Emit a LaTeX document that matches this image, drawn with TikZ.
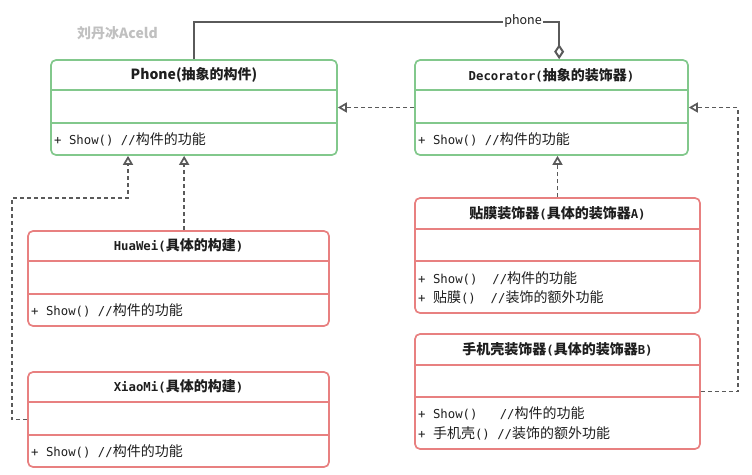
\documentclass[tikz,border=0pt]{standalone}
\usepackage{fontspec}
\setmainfont{Noto Sans CJK SC}
\newfontfamily\mono[Scale=0.88]{DejaVu Sans Mono}
\usetikzlibrary{arrows.meta,calc}
\definecolor{grn}{RGB}{130,200,140}
\definecolor{rd}{RGB}{232,128,128}
\definecolor{ln}{RGB}{90,90,90}
\definecolor{wm}{RGB}{192,192,192}
\definecolor{txt}{RGB}{30,30,30}
\newcommand\mysep[3]{\draw[#3] ($(#1.north west)+(0,#2)$) -- ($(#1.north east)+(0,#2)$);}
\begin{document}
\begin{tikzpicture}[x=1pt,y=-1pt,
  every node/.style={font=\fontsize{14}{16}\selectfont, text=txt},
  gline/.style={draw=grn, line width=1.7pt},
  rline/.style={draw=rd, line width=1.7pt},
  gbox/.style={gline, rounded corners=5pt, inner sep=0pt, minimum height=95pt},
  rbox/.style={rline, rounded corners=5pt, inner sep=0pt},
  ttl/.style={inner sep=0pt, anchor=center, font=\fontsize{14}{16}\selectfont\bfseries},
  body/.style={inner sep=0pt, anchor=west},
  dep/.style={draw=ln, line width=1.7pt, dash pattern=on 4pt off 3pt, -{Triangle[open,length=9pt,width=10pt]}},
  agg/.style={draw=ln, line width=2pt, -{Diamond[open,length=15pt,width=10pt]}}]
\useasboundingbox (0,0) rectangle (752,474);

% watermark
\node[inner sep=0pt, anchor=west, text=wm, font=\fontsize{14}{16}\selectfont\bfseries] (wmark) at (77,33) {刘丹冰Aceld};

% Phone
\node[gbox, minimum width=286pt] (phone) at (194,107.5) {};
\mysep{phone}{31}{gline}
\mysep{phone}{64}{gline}
\node[ttl] (phonet) at (194,75) {Phone(抽象的构件)};
\node[body] (phoneb) at (54,139) {{\mono+ Show() //}构件的功能};

% Decorator
\node[gbox, minimum width=273pt] (dec) at (551.5,107.5) {};
\mysep{dec}{31}{gline}
\mysep{dec}{64}{gline}
\node[ttl] (dect) at (551.5,75) {{\mono\bfseries Decorator(}抽象的装饰器{\mono\bfseries )}};
\node[body] (decb) at (418,139) {{\mono+ Show() //}构件的功能};

% HuaWei
\node[rbox, minimum width=301pt, minimum height=95pt] (hw) at (178.5,278.5) {};
\mysep{hw}{31}{rline}
\mysep{hw}{64}{rline}
\node[ttl] (hwt) at (178.5,245) {{\mono\bfseries HuaWei(}具体的构建{\mono\bfseries )}};
\node[body] (hwb) at (31,310) {{\mono+ Show() //}构件的功能};

% XiaoMi
\node[rbox, minimum width=301pt, minimum height=95pt] (xm) at (178.5,419.5) {};
\mysep{xm}{31}{rline}
\mysep{xm}{64}{rline}
\node[ttl] (xmt) at (178.5,386) {{\mono\bfseries XiaoMi(}具体的构建{\mono\bfseries )}};
\node[body] (xmb) at (31,451) {{\mono+ Show() //}构件的功能};

% 贴膜装饰器
\node[rbox, minimum width=285pt, minimum height=115pt] (tm) at (557.5,255.5) {};
\mysep{tm}{32}{rline}
\mysep{tm}{64}{rline}
\node[ttl] (tmt) at (557.5,213) {贴膜装饰器{\mono\bfseries (}具体的装饰器{\mono\bfseries A)}};
\node[body] (tmb1) at (418,278) {{\mono+ Show()~~//}构件的功能};
\node[body] (tmb2) at (418,297) {{\mono+ }贴膜{\mono()~~//}装饰的额外功能};

% 手机壳装饰器
\node[rbox, minimum width=285pt, minimum height=115pt] (sjk) at (557.5,391.5) {};
\mysep{sjk}{32}{rline}
\mysep{sjk}{64}{rline}
\node[ttl] (sjkt) at (557.5,349) {手机壳装饰器{\mono\bfseries (}具体的装饰器{\mono\bfseries B)}};
\node[body] (sjkb1) at (418,413) {{\mono+ Show()~~~//}构件的功能};
\node[body] (sjkb2) at (418,433) {{\mono+ }手机壳{\mono()~//}装饰的额外功能};

% connectors
\coordinate (aggtop) at (194,22);
\coordinate (aggend) at ($(dec.north west)+(145,0)$);
\draw[agg] (phone.north) -- (aggtop) -| (aggend);
\node[fill=white, inner sep=1pt, font=\fontsize{12.5}{14}\selectfont] (plabel) at (523,21) {phone};

\draw[dep] (dec.west) -- (phone.east);

\coordinate (hwtop) at ($(hw.north west)+(157,0)$);
\draw[dep] (hwtop) -- (hwtop |- phone.south);

\coordinate (c1) at (12,198);
\coordinate (c2) at (128,198);
\draw[dep] (xm.west) -| (c1) -- (c2) -- (c2 |- phone.south);

\draw[dep] (tm.north) -- (tm.north |- dec.south);

\coordinate (c3) at (738,391.5);
\draw[dep] (sjk.east) -- (c3) |- (dec.east);
\end{tikzpicture}
\end{document}
